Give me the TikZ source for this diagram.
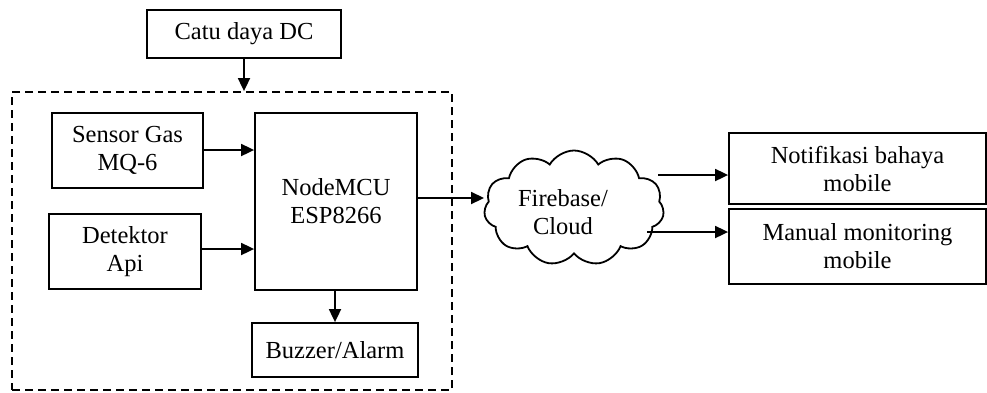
\documentclass[tikz,border=0pt]{standalone}
\usepackage{fontspec}
\setmainfont{Liberation Serif}
\usetikzlibrary{shapes.symbols,arrows.meta}
\begin{document}
\begin{tikzpicture}[x=1pt,y=-1pt,
  box/.style={draw,line width=1.8pt,align=center,inner sep=0pt},
  arr/.style={line width=1.8pt,-{Triangle[length=13pt,width=12pt]}},
  every node/.style={font=\fontsize{24.5}{28}\selectfont}]
\useasboundingbox (0,0) rectangle (987,392);
\node[draw,line width=1.8pt,dash pattern=on 8pt off 5pt,minimum width=440pt,minimum height=298pt,inner sep=0pt] (sys) at (232,241) {};
\node[box,minimum width=194pt,minimum height=48pt] (catu) at (244,34) {Catu daya DC};
\node[box,minimum width=151pt,minimum height=75pt] (gas) at (127.5,150.5) {Sensor Gas\\MQ-6};
\node[box,minimum width=152pt,minimum height=75pt] (api) at (125,251.5) {Detektor\\Api};
\node[box,minimum width=162pt,minimum height=177pt] (mcu) at (336,201.5) {NodeMCU\\ESP8266};
\node[box,minimum width=166pt,minimum height=54pt] (buz) at (335,350) {Buzzer/Alarm};
\node[draw,line width=1.8pt,cloud,cloud puffs=11,cloud puff arc=120,aspect=1.6,minimum width=180pt,minimum height=115pt,inner sep=0pt,align=center] (cloud) at (574,208) {};
\node[align=center] (ctext) at (563,212) {Firebase/\\Cloud};
\node[box,minimum width=257pt,minimum height=71pt] (notif) at (857.5,168.5) {Notifikasi bahaya\\mobile};
\node[box,minimum width=257pt,minimum height=75pt] (man) at (857.5,246.5) {Manual monitoring\\mobile};
\coordinate (c1) at (658,175);
\coordinate (c2) at (647,232);
\draw[arr] (catu.south) -- (catu.south |- sys.north);
\draw[arr] (gas.east |- 0,150) -- (mcu.west |- 0,150);
\draw[arr] (api.east |- 0,249) -- (mcu.west |- 0,249);
\draw[arr] (mcu.south -| buz.north) -- (buz.north);
\draw[arr] (mcu.east |- 0,198) -- (cloud.west |- 0,198);
\draw[arr] (c1) -- (notif.west |- c1);
\draw[arr] (c2) -- (man.west |- c2);
\end{tikzpicture}
\end{document}
